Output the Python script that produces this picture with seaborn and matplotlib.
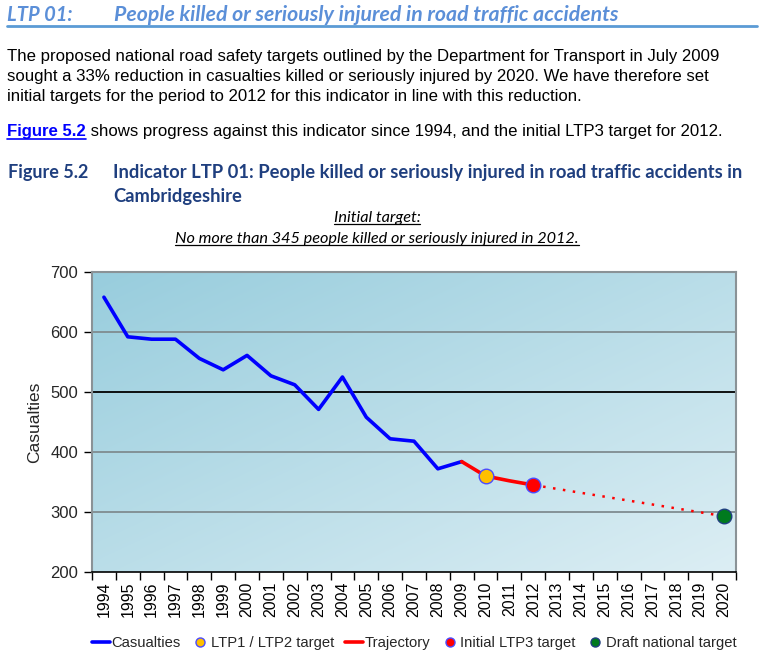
import numpy as np
import pandas as pd
import matplotlib
matplotlib.use("Agg")
import matplotlib.pyplot as plt
from matplotlib.lines import Line2D
from matplotlib.colors import LinearSegmentedColormap
import seaborn as sns

# ---------------- data ----------------
all_years = list(range(1994, 2021))
casualty_years = list(range(1994, 2010))
casualties = [658, 592, 588, 588, 556, 537, 561, 527, 512, 471, 525, 458, 422, 418, 372, 384]
trajectory_years = [2009, 2010, 2011, 2012]
trajectory = [384, 360, 352, 345]
projection_years = [2012, 2020]
projection = [345, 293]
ltp12_year, ltp12_target = [2010], [360]
ltp3_year, ltp3_target = [2012], [345]
national_year, national_target = [2020], [293]
y_ticks = [200, 300, 400, 500, 600, 700]

W, H = 764, 665
sns.set_theme(style="white")
plt.rcParams['font.family'] = ['Liberation Sans', 'DejaVu Sans']

fig = plt.figure(figsize=(W / 100, H / 100), dpi=100)

def fx(x):
    return x / W

def fy(y):
    return 1 - y / H

ax = fig.add_axes([fx(92), fy(572), fx(736) - fx(92), fy(272) - fy(572)])

# gradient background: dark top-left -> light bottom-right
g = np.linspace(0, 1, 200)
gx, gy = np.meshgrid(g, g)
grad = (gx * 0.5 + gy * 0.5)
cmap = LinearSegmentedColormap.from_list("bg", ["#98cddd", "#dceef4"])
ax.imshow(grad, extent=[0, 1, 0, 1], transform=ax.transAxes, cmap=cmap,
          aspect='auto', origin='upper', zorder=0, interpolation='bilinear')

df_c = pd.DataFrame({"year": casualty_years, "value": casualties})
df_t = pd.DataFrame({"year": trajectory_years, "value": trajectory})
df_p = pd.DataFrame({"year": projection_years, "value": projection})

sns.lineplot(data=df_c, x="year", y="value", ax=ax, color="#0000ff", lw=2.6, zorder=4)
sns.lineplot(data=df_t, x="year", y="value", ax=ax, color="#ff0000", lw=2.6, zorder=4)
sns.lineplot(data=df_p, x="year", y="value", ax=ax, color="#ff0000", lw=1.8, zorder=4)
ax.lines[-1].set_linestyle((0, (1, 3.0)))

sns.scatterplot(x=ltp12_year, y=ltp12_target, ax=ax, color="#ffc000", edgecolor="#4b4bff",
                s=110, linewidth=1.0, zorder=5)
sns.scatterplot(x=ltp3_year, y=ltp3_target, ax=ax, color="#ff0000", edgecolor="#4b4bff",
                s=110, linewidth=1.0, zorder=5)
sns.scatterplot(x=national_year, y=national_target, ax=ax, color="#007a1e", edgecolor="#1f3f7f",
                s=110, linewidth=1.0, zorder=5)

ax.set_xlim(1993.5, 2020.5)
ax.set_ylim(200, 700)
ax.set_yticks(y_ticks)
ax.set_yticklabels([str(v) for v in y_ticks], fontsize=12)
ax.set_xticks(all_years)
ax.set_xticklabels([str(y) for y in all_years], rotation=90, fontsize=11.5)
ax.set_xticks(np.arange(1993.5, 2021, 1), minor=True)
ax.tick_params(axis='x', which='major', length=0, pad=7, colors='black')
ax.tick_params(axis='x', which='minor', length=6, width=1, color='black', direction='out', bottom=True)
ax.tick_params(axis='y', which='major', length=6, width=1, color='black', direction='out', left=True, pad=4)
ax.set_xlabel("")
ax.set_ylabel("Casualties", fontsize=12.5, labelpad=6)

ax.grid(False)
for yv in [300, 400, 500, 600]:
    ax.axhline(yv, color="black" if yv == 500 else "#7f8c90", lw=1.3, zorder=1)

for s in ["top", "right", "left"]:
    ax.spines[s].set_color("#8a9296")
    ax.spines[s].set_linewidth(1.5)
ax.spines["bottom"].set_color("black")
ax.spines["bottom"].set_linewidth(1.2)

# legend
handles = [
    Line2D([0], [0], color="#0000ff", lw=2.6),
    Line2D([0], [0], marker='o', color='none', markerfacecolor="#ffc000", markeredgecolor="#4b4bff", markersize=6.5),
    Line2D([0], [0], color="#ff0000", lw=2.6),
    Line2D([0], [0], marker='o', color='none', markerfacecolor="#ff0000", markeredgecolor="#4b4bff", markersize=6.5),
    Line2D([0], [0], marker='o', color='none', markerfacecolor="#007a1e", markeredgecolor="#1f3f7f", markersize=6.5),
]
labels = ["Casualties", "LTP1 / LTP2 target", "Trajectory", "Initial LTP3 target", "Draft national target"]
fig.legend(handles, labels, loc='center', bbox_to_anchor=(fx(414), fy(643)), ncol=5, frameon=False,
           fontsize=10.6, handlelength=1.25, handletextpad=0.1, columnspacing=0.7, borderaxespad=0,
           borderpad=0)

# ---------------- text ----------------
head_color = "#5b8fd8"
fig.text(fx(7), fy(21), "LTP 01:", color=head_color, fontsize=14.5, fontweight='bold', fontstyle='italic',
         family=['Lato', 'DejaVu Sans'], va='baseline')
fig.text(fx(114), fy(21), "People killed or seriously injured in road traffic accidents", color=head_color,
         fontsize=15.3, fontweight='bold', fontstyle='italic', family=['Lato', 'DejaVu Sans'], va='baseline')
fig.add_artist(Line2D([fx(7), fx(757)], [fy(26), fy(26)], color="#5b9bd5", lw=2, transform=fig.transFigure))

para = ["The proposed national road safety targets outlined by the Department for Transport in July 2009",
        "sought a 33% reduction in casualties killed or seriously injured by 2020. We have therefore set",
        "initial targets for the period to 2012 for this indicator in line with this reduction."]
for i, line in enumerate(para):
    fig.text(fx(7), fy(61 + 20 * i), line, fontsize=12.1, color="black", va='baseline')

renderer = fig.canvas.get_renderer()

link = fig.text(fx(7), fy(136), "Figure 5.2", fontsize=12.1, color="#0000ff", fontweight='bold', va='baseline')
bb = link.get_window_extent(renderer)
fig.add_artist(Line2D([bb.x0 / W, bb.x1 / W], [fy(139), fy(139)], color="#0000ff", lw=1.2,
                      transform=fig.transFigure))
fig.text(bb.x1 / W, fy(136), " shows progress against this indicator since 1994, and the initial LTP3 target for 2012.",
         fontsize=12.1, color="black", va='baseline')

cap_color = "#1f3f7f"
fig.text(fx(8), fy(178), "Figure 5.2", fontsize=13, fontweight='bold', color=cap_color,
         family=['Lato', 'DejaVu Sans'], va='baseline')
fig.text(fx(113), fy(178), "Indicator LTP 01: People killed or seriously injured in road traffic accidents in",
         fontsize=13.25, fontweight='bold', color=cap_color, family=['Lato', 'DejaVu Sans'], va='baseline')
fig.text(fx(113), fy(202), "Cambridgeshire", fontsize=13.25, fontweight='bold', color=cap_color,
         family=['Lato', 'DejaVu Sans'], va='baseline')

t1 = fig.text(fx(377), fy(222), "Initial target:", fontsize=11.7, fontstyle='italic', color="black",
              family=['Lato', 'DejaVu Sans'], va='baseline', ha='center')
t2 = fig.text(fx(377), fy(243), "No more than 345 people killed or seriously injured in 2012.", fontsize=11.7,
              fontstyle='italic', color="black", family=['Lato', 'DejaVu Sans'], va='baseline', ha='center')
for t in (t1, t2):
    bb = t.get_window_extent(renderer)
    fig.add_artist(Line2D([bb.x0 / W, bb.x1 / W], [(bb.y0 + 1) / H, (bb.y0 + 1) / H], color="black", lw=0.9,
                          transform=fig.transFigure))

fig.savefig("out.png", dpi=100)
